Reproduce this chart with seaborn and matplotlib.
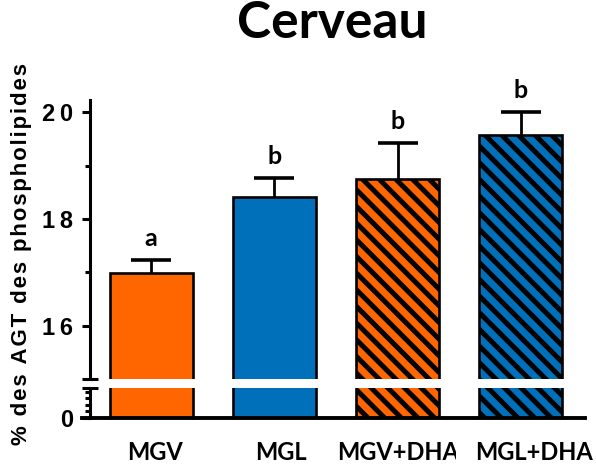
import matplotlib
matplotlib.use("Agg")
import matplotlib.pyplot as plt
import matplotlib.transforms as mtransforms
from matplotlib.ticker import FixedLocator, FuncFormatter
import numpy as np
import pandas as pd
import seaborn as sns

# Brain (cerveau) phospholipid fatty-acid share per diet group
groups = ["MGV", "MGL", "MGV+DHA", "MGL+DHA"]
means = [16.98, 18.42, 18.74, 19.58]
sem = [0.25, 0.35, 0.69, 0.43]
letters = ["a", "b", "b", "b"]
colors = ["#FF6600", "#0070BA", "#FF6600", "#0070BA"]
hatched = [False, False, True, True]

sns.set_theme(style="white")
plt.rcParams["hatch.linewidth"] = 3.6
plt.rcParams["hatch.color"] = "black"

ARIAL = ["Liberation Sans", "DejaVu Sans"]
CAL = ["Lato", "DejaVu Sans"]

df = pd.DataFrame({"group": groups, "value": means})

W, H = 596, 465
fig = plt.figure(figsize=(W / 100, H / 100), dpi=100)

left_px, right_px = 82, 585
ax_top = fig.add_axes([left_px / W, 1 - 379 / H, (right_px - left_px) / W, 279 / H])
ax_bot = fig.add_axes([left_px / W, 1 - 418 / H, (right_px - left_px) / W, 30 / H])

spine_x = -0.495
bar_w = 0.673
lw = 2.2

for ax in (ax_top, ax_bot):
    sns.barplot(data=df, x="group", y="value", hue="group", palette=colors,
                legend=False, width=bar_w, edgecolor="black", linewidth=1.9,
                saturation=1, ax=ax)
    for patch, h in zip(ax.patches, hatched):
        if h:
            patch.set_hatch("\\\\")
    ax.set_xlim(-0.56, 3.52)
    ax.set_xlabel("")
    ax.set_ylabel("")
    ax.set_facecolor("none")
    for s in ("top", "right"):
        ax.spines[s].set_visible(False)
    ax.spines["left"].set_position(("data", spine_x))
    ax.spines["left"].set_linewidth(lw)
    ax.spines["left"].set_color("black")
    ax.tick_params(axis="y", which="major", direction="out", length=6, width=lw,
                   color="black", pad=6, left=True)
    ax.tick_params(axis="y", which="minor", direction="out", length=3.5, width=lw,
                   color="black", left=True)

# upper segment
ax_top.set_ylim(15.0, 20.23)
ax_top.spines["bottom"].set_visible(False)
ax_top.set_xticks([])
ax_top.yaxis.set_major_locator(FixedLocator([16, 18, 20]))
ax_top.yaxis.set_minor_locator(FixedLocator([17, 19]))

# lower segment
ax_bot.set_ylim(0, 4.6)
ax_bot.spines["bottom"].set_linewidth(lw + 0.6)
ax_bot.spines["bottom"].set_color("black")
ax_bot.yaxis.set_major_locator(FixedLocator([0]))
ax_bot.yaxis.set_minor_locator(FixedLocator([1, 2, 3, 4]))

spaced = FuncFormatter(lambda v, p: "\u2009".join(str(int(round(v)))))
for ax in (ax_top, ax_bot):
    ax.yaxis.set_major_formatter(spaced)
    for t in ax.get_yticklabels():
        t.set_fontfamily(ARIAL)
        t.set_fontweight("bold")
        t.set_fontsize(17)
        t.set_color("black")

# group names under the bars; the last one sits a little to the right and
# the one before it is cut short in front of it
ax_bot.set_xticks([])
name_tr = mtransforms.blended_transform_factory(ax_bot.transData, ax_bot.transAxes)
shift = [0.03, 0.05, 0.0, 0.11]
names = []
for i, g in enumerate(groups):
    t = ax_bot.text(i + shift[i], -0.78, g, transform=name_tr, ha="center",
                    va="top", fontfamily=CAL, fontweight="bold", fontsize=17,
                    color="black", clip_on=False)
    names.append(t)
fig.canvas.draw()
rend = fig.canvas.get_renderer()
last_box = names[-1].get_window_extent(rend)
cut_box = mtransforms.Bbox.from_extents(0, 0, last_box.x0 - 20, H)
names[-2].set_clip_box(mtransforms.TransformedBbox(cut_box, mtransforms.IdentityTransform()))
names[-2].set_clip_on(True)

# break markers at the ends of the split axis
for ax, yb in ((ax_top, 0.0), (ax_bot, 1.0)):
    tr = mtransforms.blended_transform_factory(ax.transData, ax.transAxes)
    ax.plot([spine_x], [yb], marker="_", markersize=11, mew=lw, color="black",
            transform=tr, clip_on=False)

# error bars (upper side only) and significance letters
x = np.arange(len(groups))
_, caps, _ = ax_top.errorbar(x, means, yerr=[np.zeros(len(sem)), sem], fmt="none",
                             ecolor="black", elinewidth=2.0, capsize=14.4,
                             capthick=2.6, zorder=5)
caps[0].set_visible(False)  # no cap on the lower (zero) side
for xi, m, s, lab in zip(x, means, sem, letters):
    ax_top.text(xi, m + s + 0.26, lab, ha="center", va="baseline",
                fontfamily=CAL, fontweight="bold", fontsize=18, color="black",
                clip_on=False)

fig.text(0.557, 1 - 24 / H, "Cerveau", ha="center", va="center",
         fontfamily=CAL, fontweight="bold", fontsize=37, color="black")

ylab = "\u200a".join("% des AGT des phospholipides")
fig.text(22 / W, 1 - 254 / H, ylab, rotation=90, ha="center", va="center",
         fontfamily=ARIAL, fontweight="bold", fontsize=16, color="black")

fig.savefig("out.png", dpi=100)
